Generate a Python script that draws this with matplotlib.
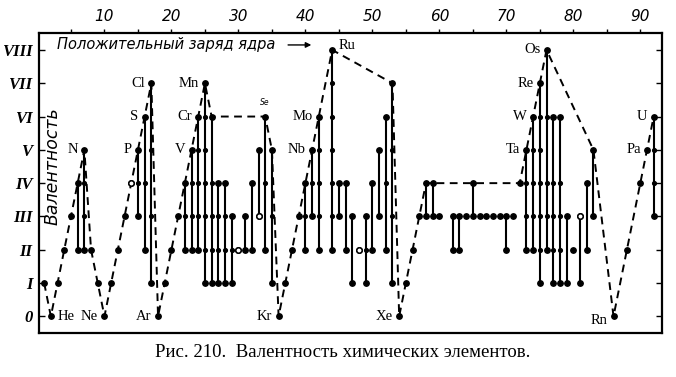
import matplotlib.pyplot as plt

# порядковый номер элемента и его валентности
z_num = [1, 2, 3, 4, 5, 6, 7, 8, 9, 10,
         11, 12, 13, 14, 15, 16, 17, 18, 19, 20,
         21, 22, 23, 24, 25, 26, 27, 28, 29, 30,
         31, 32, 33, 34, 35, 36, 37, 38, 39, 40,
         41, 42, 44, 45, 46, 47, 48, 49, 50,
         51, 52, 53, 54, 55, 56, 57, 58, 59, 60,
         62, 63, 64, 65, 66, 67, 68, 69, 70,
         71, 72, 73, 74, 75, 76, 77, 78, 79, 80,
         81, 82, 83, 86, 88, 90, 91, 92]
valences = [[1], [0], [1], [2], [3], [2, 4], [2, 3, 4, 5], [2], [1], [0],
            [1], [2], [3], [4], [3, 4, 5], [2, 4, 6], [1, 3, 5, 7], [0], [1], [2],
            [3], [2, 3, 4], [2, 3, 4, 5], [2, 3, 4, 5, 6], [1, 2, 3, 4, 5, 6, 7],
            [1, 2, 3, 4, 6], [1, 2, 3, 4], [1, 2, 3, 4], [1, 2, 3], [2],
            [2, 3], [2, 4], [3, 5], [2, 4, 6], [1, 3, 5], [0], [1], [2], [3], [2, 3, 4],
            [3, 4, 5], [2, 3, 4, 5, 6], [2, 3, 4, 5, 6, 7, 8], [3, 4], [2, 4], [1, 3],
            [2], [1, 2, 3], [2, 4],
            [3, 5], [2, 4, 6], [1, 3, 5, 7], [0], [1], [2], [3], [3, 4], [3, 4], [3],
            [2, 3], [2, 3], [3], [3, 4], [3], [3], [3], [3], [2, 3],
            [3], [4], [2, 3, 4, 5], [2, 3, 4, 5, 6], [1, 2, 3, 4, 5, 6, 7],
            [2, 3, 4, 6, 8], [1, 2, 3, 4, 6], [1, 2, 3, 4, 6], [1, 3], [2],
            [1, 3], [2, 4], [3, 5], [0], [2], [4], [5], [3, 4, 5, 6]]

# светлые кружки
open_z = [14, 30, 33, 48, 81]
open_v = [4, 2, 3, 2, 3]

# пунктир по высшим валентностям
path_z = [1, 2, 3, 4, 5, 6, 7, 8, 9, 10, 11, 12, 13, 14, 15, 16, 17, 18,
          19, 20, 21, 22, 23, 24, 25, 26, 34, 35, 36, 37, 38, 39, 40, 41, 42,
          44, 53, 54, 55, 56, 57, 58, 72, 73, 74, 75, 76, 83, 86, 88, 90, 91, 92]
path_v = [1, 0, 1, 2, 3, 4, 5, 2, 1, 0, 1, 2, 3, 4, 5, 6, 7, 0,
          1, 2, 3, 4, 5, 6, 7, 6, 6, 5, 0, 1, 2, 3, 4, 5, 6,
          8, 7, 0, 1, 2, 3, 4, 4, 5, 6, 7, 8, 5, 0, 2, 4, 5, 6]

# подписи элементов
lab_text = ['He', 'Ne', 'Ar', 'N', 'P', 'S', 'Cl', 'V', 'Cr', 'Mn', 'Kr',
            'Nb', 'Mo', 'Ru', 'Xe', 'Ta', 'W', 'Re', 'Os', 'Rn', 'Pa', 'U']
lab_z = [2, 10, 18, 7, 15, 16, 17, 23, 24, 25, 36,
         41, 42, 44, 54, 73, 74, 75, 76, 86, 91, 92]
lab_v = [0, 0, 0, 5, 5, 6, 7, 5, 6, 7, 0,
         5, 6, 8, 0, 5, 6, 7, 8, 0, 5, 6]
lab_side = ['r', 'l', 'l', 'l', 'l', 'l', 'l', 'l', 'l', 'l', 'l',
            'l', 'l', 'r', 'l', 'l', 'l', 'l', 'l', 'l', 'l', 'l']

roman = ['0', 'I', 'II', 'III', 'IV', 'V', 'VI', 'VII', 'VIII']
xticks = [10, 20, 30, 40, 50, 60, 70, 80, 90]

fig = plt.figure(figsize=(6.76, 3.77), dpi=100)
ax = fig.add_axes([0.0584, 0.1167, 0.9205, 0.795])

ax.plot(path_z, path_v, color='black', lw=1.4, ls=(0, (4, 2.8)), zorder=2)

for z, vals in zip(z_num, valences):
    if len(vals) > 1:
        ax.plot([z, z], [min(vals), max(vals)], color='black', lw=1.5,
                solid_capstyle='butt', zorder=3)
    for v in vals:
        big = v == min(vals) or v == max(vals)
        ax.plot(z, v, 'o', color='black', ms=3.9 if big else 2.7,
                mec='black', zorder=4)

ax.plot(open_z, open_v, 'o', ms=3.9, mfc='white', mec='black', mew=1.1,
        zorder=5)

for t, z, v, s in zip(lab_text, lab_z, lab_v, lab_side):
    dy = 0
    if t == 'Ru':
        dy = 3
    if t == 'Rn':
        dy = -3
    ax.annotate(t, (z, v), xytext=(4.5 if s == 'r' else -4.5, dy),
                textcoords='offset points', ha='left' if s == 'r' else 'right',
                va='center', fontsize=10.5, family='Liberation Serif')

ax.text(34, 6.28, 'Se', fontsize=5.5, style='italic', ha='center',
        va='bottom', family='DejaVu Sans')

ax.text(2.9, 8.15, 'Положительный заряд ядра', fontsize=10.5, style='italic',
        va='center', ha='left', family='DejaVu Sans')
ax.annotate('', xy=(41.3, 8.15), xytext=(37.0, 8.15),
            arrowprops=dict(arrowstyle='-|>', color='black', lw=1.0,
                            mutation_scale=8))

ax.text(2.3, 4.5, 'Валентность', rotation=90, fontsize=12.5, style='italic',
        va='center', ha='center', family='DejaVu Sans')

ax.set_xlim(0.3, 93.2)
ax.set_ylim(-0.5, 8.5)

ax.xaxis.tick_top()
ax.set_xticks(xticks)
ax.set_xticklabels([str(x) for x in xticks], style='italic', fontsize=11,
                   family='DejaVu Sans')
ax.set_xticks(range(5, 95, 10), minor=True)
ax.tick_params(axis='x', which='both', direction='out', length=3, width=1,
               pad=4)

ax.set_yticks(range(9))
ax.set_yticklabels(roman, fontsize=12, weight='bold', style='italic',
                   family='Liberation Serif')
ax.tick_params(axis='y', direction='in', length=4, width=1, right=True,
               pad=5)

for sp in ax.spines.values():
    sp.set_linewidth(1.6)

fig.text(0.507, 0.066, 'Рис. 210.  Валентность химических элементов.',
         ha='center', va='center', fontsize=13.5, family='Liberation Serif')

fig.savefig('out.png', dpi=100)
